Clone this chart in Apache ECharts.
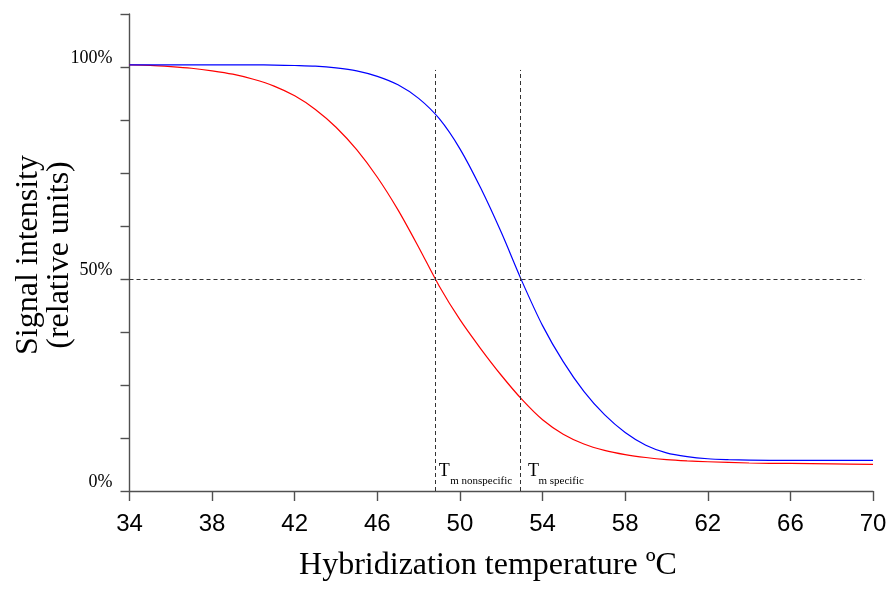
<!DOCTYPE html>
<html>
<head>
<meta charset="utf-8">
<script src="https://cdn.jsdelivr.net/npm/echarts@6/dist/echarts.min.js"></script>
<style>html,body{margin:0;padding:0;background:#fff;}#c{width:891px;height:595px;}</style>
</head>
<body>
<div id="c"></div>
<script>
// ---- data ----
const xTicks = [34, 38, 42, 46, 50, 54, 58, 62, 66, 70];
const yTicks = [0, 12.5, 25, 37.5, 50, 62.5, 75, 87.5, 100, 112.5];
const yLabels = [0, 50, 100];

const nonspecific = [ // red, [temperature, signal %]
  [34,100.5],[35,100.4],[36,100.1],[37,99.7],[38,99.1],[39,98.3],[40,97.1],[41,95.5],[42,93.2],[43,90.0],
  [44,85.8],[45,80.5],[46,74.0],[47,66.3],[48,57.5],[49,48.3],[50,40.4],[51,33.6],[52,27.3],[53,21.6],
  [54,16.8],[55,13.4],[56,11.1],[57,9.6],[58,8.6],[59,7.9],[60,7.4],[61,7.1],[62,6.9],[64,6.6],[66,6.5],[68,6.4],[70,6.3]
];
const specific = [ // blue
  [34,100.5],[35,100.5],[36,100.5],[37,100.5],[38,100.5],[39,100.5],[40,100.5],[41,100.45],[42,100.35],[43,100.2],
  [44,99.8],[45,99.1],[46,97.8],[47,95.8],[48,92.6],[49,87.8],[50,80.7],[51,71.5],[52,61.0],[53,49.5],
  [54,39.0],[55,30.5],[56,23.5],[57,18.0],[58,13.8],[59,10.8],[60,9.0],[61,8.1],[62,7.6],[63,7.4],[64,7.3],[66,7.2],[68,7.2],[70,7.2]
];
const tmValues = [48.8, 52.93];      // nonspecific, specific
const tmNames = ['m nonspecific', 'm specific'];
const halfLevel = 50;
const halfLineEnd = 69.6;
const tmLineTop = 99.3;

const chart = echarts.init(document.getElementById('c'));
const serif = 'Liberation Serif, Times New Roman, serif';
const axisColor = '#505050';
const dash = {color: '#333', width: 1, type: [4, 3]};

chart.setOption({
  animation: false,
  grid: {left: 129.5, right: 18, top: 14, bottom: 104},
  xAxis: {
    type: 'value', min: 34, max: 70,
    axisLine: {show: true, lineStyle: {color: axisColor, width: 1.4}},
    axisTick: {show: true, length: 10, lineStyle: {color: axisColor, width: 1.4}, customValues: xTicks},
    axisLabel: {customValues: xTicks, margin: 21, fontFamily: 'Liberation Sans, Arial, sans-serif', fontSize: 24, color: '#000'},
    splitLine: {show: false}
  },
  yAxis: {
    type: 'value', min: 0, max: 112.5,
    axisLine: {show: true, lineStyle: {color: axisColor, width: 1.4}},
    axisTick: {show: true, length: 9, lineStyle: {color: axisColor, width: 1.4}, customValues: yTicks},
    axisLabel: {customValues: yLabels, formatter: v => v + '%', margin: 17, fontFamily: serif, fontSize: 18,
      color: '#000', verticalAlign: 'bottom', padding: [0, 0, 0, 0]},
    splitLine: {show: false}
  },
  series: [
    {
      type: 'line', data: nonspecific, showSymbol: false, smooth: 0.3,
      lineStyle: {color: '#ff0000', width: 1.2}, z: 3,
      markLine: {
        silent: true, symbol: 'none', label: {show: false}, lineStyle: dash,
        data: [
          [{coord: [34, halfLevel]}, {coord: [halfLineEnd, halfLevel]}],
          [{coord: [tmValues[0], 0]}, {coord: [tmValues[0], tmLineTop]}],
          [{coord: [tmValues[1], 0]}, {coord: [tmValues[1], tmLineTop]}]
        ]
      }
    },
    {
      type: 'line', data: specific, showSymbol: false, smooth: 0.3,
      lineStyle: {color: '#0000ff', width: 1.2}, z: 3
    }
  ]
});

// labels anchored to the Tm lines
const offsetsT = [3.6, 7.6];
const offsetsS = [15, 18];
const graphics = [];
tmValues.forEach((v, i) => {
  const p = chart.convertToPixel({gridIndex: 0}, [v, 0]);
  graphics.push({type: 'text', x: p[0] + offsetsT[i], y: p[1] - 11,
    style: {text: 'T', font: '18px ' + serif, fill: '#000', align: 'left', verticalAlign: 'bottom'}});
  graphics.push({type: 'text', x: p[0] + offsetsS[i], y: p[1] - 4,
    style: {text: tmNames[i], font: '11px ' + serif, fill: '#000', align: 'left', verticalAlign: 'bottom'}});
});
// axis names
graphics.push({type: 'text', x: 488, y: 566,
  style: {text: 'Hybridization temperature ºC', font: '32px ' + serif, fill: '#000', align: 'center', verticalAlign: 'middle'}});
graphics.push({type: 'text', x: 44, y: 255, rotation: Math.PI / 2,
  style: {text: 'Signal intensity\n(relative units)', font: '32px ' + serif, lineHeight: 31, fill: '#000', align: 'center', verticalAlign: 'middle'}});
chart.setOption({graphic: graphics});
</script>
</body>
</html>
